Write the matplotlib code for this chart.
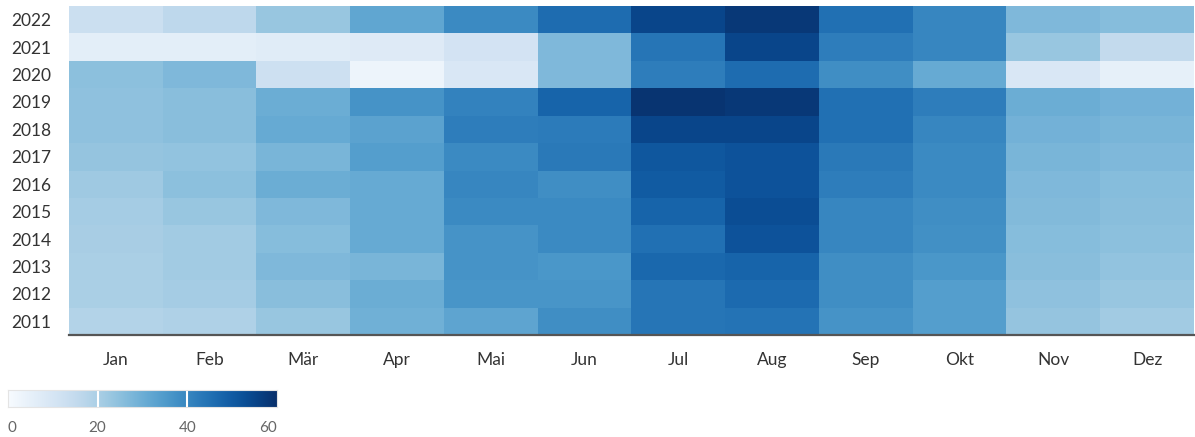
import matplotlib
matplotlib.use("Agg")
import matplotlib.pyplot as plt
from matplotlib.colors import ListedColormap, to_rgb
import numpy as np

months = ["Jan", "Feb", "Mär", "Apr", "Mai", "Jun", "Jul", "Aug", "Sep", "Okt", "Nov", "Dez"]
years = [2011, 2012, 2013, 2014, 2015, 2016, 2017, 2018, 2019, 2020, 2021, 2022]

v2011 = [18.5, 19, 23, 29.5, 32.5, 38, 44, 44.5, 37, 34, 23.5, 21.5]
v2012 = [20, 21, 25.5, 30, 36.5, 36.5, 44, 46.5, 38, 34, 24.5, 23]
v2013 = [20, 21.5, 27, 28, 37, 36, 47, 48, 38, 36, 25.5, 24]
v2014 = [20.5, 21.5, 26, 31, 37, 39, 45, 52, 40, 37.5, 26, 25]
v2015 = [21, 23, 27, 31, 39, 39, 48, 53, 40, 38, 26.5, 25.5]
v2016 = [22, 25, 30, 31, 40, 38, 50, 52, 42, 39, 27, 26]
v2017 = [23.5, 24, 28, 34, 39, 43, 51, 52, 43, 39, 28, 27]
v2018 = [24.5, 25.5, 31, 33, 42, 42.5, 55, 55, 45, 40, 29, 28]
v2019 = [24.5, 25.5, 30, 37, 41, 48, 59, 58, 45, 42, 30, 29]
v2020 = [25, 27, 12.5, 3, 9, 27, 42, 46, 38, 31, 9, 5]
v2021 = [6, 6, 7, 7.5, 11, 27, 44, 55, 42, 40, 23, 15]
v2022 = [13, 16, 23, 32, 39, 46, 55, 58, 45, 40, 27, 26]

data = np.array([v2011, v2012, v2013, v2014, v2015, v2016, v2017, v2018,
                 v2019, v2020, v2021, v2022])

cbar_ticks = [0, 20, 40, 60]


# d3-style interpolateBlues (uniform B-spline through the 9-colour Blues scheme)
def d3_blues(n=256):
    scheme = ["#f7fbff", "#deebf7", "#c6dbef", "#9ecae1", "#6baed6",
              "#4292c6", "#2171b5", "#08519c", "#08306b"]
    vals = np.array([to_rgb(c) for c in scheme])
    m = len(vals) - 1
    out = []
    for t in np.linspace(0, 1, n):
        if t <= 0:
            i = 0
            t = 0.0
        elif t >= 1:
            i = m - 1
            t = 1.0
        else:
            i = int(np.floor(t * m))
        v1 = vals[i]
        v2 = vals[i + 1]
        v0 = vals[i - 1] if i > 0 else 2 * v1 - v2
        v3 = vals[i + 2] if i < m - 1 else 2 * v2 - v1
        s = (t - i / m) * m
        s2, s3 = s * s, s * s * s
        c = ((1 - 3 * s + 3 * s2 - s3) * v0 + (4 - 6 * s2 + 3 * s3) * v1
             + (1 + 3 * s + 3 * s2 - 3 * s3) * v2 + s3 * v3) / 6
        out.append(np.clip(c, 0, 1))
    return ListedColormap(np.array(out))


cmap = d3_blues()

W, H = 1195, 437
fig = plt.figure(figsize=(W / 100, H / 100), dpi=100)
font = ["Lato", "DejaVu Sans"]
txt_color = "#333333"

ax = fig.add_axes([69 / W, 1 - 335 / H, (1194 - 69) / W, (335 - 6) / H])
ax.imshow(data, cmap=cmap, vmin=0, vmax=60, aspect="auto",
          origin="lower", interpolation="nearest")
ax.set_xticks(range(len(months)))
ax.set_xticklabels(months, fontfamily=font, fontsize=12.5, color=txt_color)
ax.set_yticks(range(len(years)))
ax.set_yticklabels([str(y) for y in years], fontfamily=font, fontsize=12.5, color=txt_color)
ax.tick_params(axis="both", length=0)
ax.tick_params(axis="x", pad=12)
ax.tick_params(axis="y", pad=13)
for s in ["top", "right", "left"]:
    ax.spines[s].set_visible(False)
ax.spines["bottom"].set_color("#555555")
ax.spines["bottom"].set_linewidth(1.6)

# colorbar
cax = fig.add_axes([8 / W, 1 - 407 / H, (277 - 8) / W, (407 - 390) / H])
grad = np.linspace(0, 60, 512).reshape(1, -1)
cax.imshow(grad, cmap=cmap, vmin=0, vmax=60, aspect="auto",
           extent=[0, 60, 0, 1], interpolation="bilinear")
for t in cbar_ticks[1:-1]:
    cax.axvline(t, color="white", lw=1.5)
cax.set_xlim(0, 60)
cax.set_yticks([])
cax.set_xticks(cbar_ticks)
labels = cax.set_xticklabels([str(t) for t in cbar_ticks], fontfamily=font,
                             fontsize=11, color="#666666")
labels[0].set_horizontalalignment("left")
labels[-1].set_horizontalalignment("right")
cax.tick_params(axis="x", length=0, pad=10)
for s in cax.spines.values():
    s.set_color("#e4e4e4")
    s.set_linewidth(0.8)

fig.savefig("out.png", dpi=100)
